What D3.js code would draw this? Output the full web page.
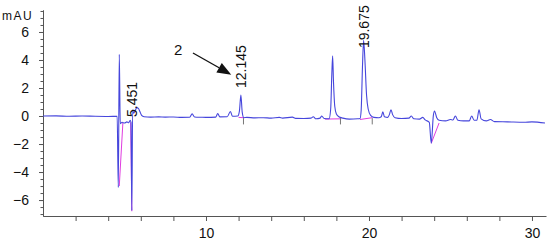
<!DOCTYPE html>
<html>
<head>
<meta charset="utf-8">
<script src="https://cdn.jsdelivr.net/npm/d3@7"></script>
<style>
  body { margin: 0; background: #fff; }
  svg { display: block; font-family: "Liberation Sans", Arial, sans-serif; }
</style>
</head>
<body>
<div id="chart"></div>
<script>
// chromatogram trace, [retention time (min), signal (mAU)]
const trace = [
  [0.0, 0.00], [0.8, 0.01], [1.6, -0.02], [2.4, 0.00], [3.2, -0.02], [4.0, -0.03],
  [4.55, -0.02], [4.62, -5.1], [4.68, 4.4], [4.74, -0.55], [4.85, -0.45], [5.0, -0.5],
  [5.15, -0.42], [5.25, -0.48], [5.35, -0.3], [5.40, -0.45], [5.45, -6.75], [5.50, 0.45],
  [5.56, 0.2], [5.65, 0.35], [5.75, 0.6], [5.85, 0.55], [5.95, 0.3], [6.05, 0.05],
  [6.2, -0.05], [6.6, -0.08], [7.1, -0.06], [7.5, -0.08], [8.0, -0.07], [8.5, -0.1],
  [9.0, -0.09], [9.15, 0.15], [9.3, -0.07], [9.7, -0.09], [10.0, -0.1], [10.6, -0.08],
  [10.72, 0.18], [10.85, -0.06], [11.3, -0.05], [11.5, 0.32], [11.62, -0.02], [11.95, 0.0],
  [12.05, 0.35], [12.14, 1.5], [12.22, 0.3], [12.32, -0.12], [12.5, -0.1], [13.0, -0.13],
  [13.5, -0.12], [14.0, -0.15], [14.5, -0.1], [14.7, -0.15], [15.3, -0.08], [15.5, -0.17],
  [16.0, -0.18], [16.45, -0.15], [16.58, -0.05], [16.75, -0.2], [17.0, -0.15], [17.1, 0.0],
  [17.25, -0.18], [17.55, -0.2], [17.65, 0.5], [17.72, 3.0], [17.77, 4.3], [17.82, 2.5],
  [17.9, 0.7], [18.0, 0.15], [18.15, -0.05], [18.4, -0.15], [18.8, -0.22], [19.3, -0.2],
  [19.45, -0.18], [19.52, 0.4], [19.6, 3.5], [19.67, 5.4], [19.75, 4.0], [19.85, 1.5],
  [19.95, 0.5], [20.1, 0.05], [20.3, -0.1], [20.6, -0.12], [20.75, -0.05], [20.85, 0.3],
  [20.95, -0.05], [21.15, -0.1], [21.25, 0.1], [21.35, 0.45], [21.45, 0.1], [21.6, -0.12],
  [22.0, -0.18], [22.45, -0.15], [22.6, 0.0], [22.75, -0.2], [23.1, -0.22], [23.3, -0.1],
  [23.45, -0.28], [23.7, -0.45], [23.82, -1.95], [23.95, 0.05], [24.02, 0.35], [24.15, -0.1],
  [24.3, -0.3], [24.7, -0.35], [25.0, -0.25], [25.15, -0.28], [25.3, 0.0], [25.45, -0.3],
  [25.8, -0.35], [26.15, -0.35], [26.3, 0.0], [26.45, -0.3], [26.62, -0.3], [26.75, 0.45],
  [26.88, -0.2], [27.2, -0.35], [27.45, -0.25], [27.7, -0.4], [28.5, -0.42], [29.5, -0.45],
  [30.0, -0.42], [30.8, -0.5]
];

// integration baselines (magenta)
const baselines = [
  [[4.68, -5.0], [4.9, -0.5]],
  [[5.38, -0.45], [5.45, -6.8]],
  [[12.0, -0.1], [12.32, -0.12]],
  [[17.3, -0.22], [18.3, -0.2]],
  [[19.45, -0.25], [20.2, -0.12]],
  [[23.82, -1.95], [24.3, -0.5]]
];

// small peak-end markers
const markerTimes = [12.3, 18.25, 20.2];

// retention time labels: [rt, signal where text starts]
const peakLabels = [
  { text: "5.451", rt: 5.45, at: -0.07 },
  { text: "12.145", rt: 12.14, at: 2.0 },
  { text: "19.675", rt: 19.67, at: 4.85 }
];

const xTicks = [2, 4, 6, 8, 10, 12, 14, 16, 18, 20, 22, 24, 26, 28, 30];
const xLabels = [10, 20, 30];
const yTicks = [-6, -4, -2, 0, 2, 4, 6];
const yMinorTicks = d3.range(-7, 7.51, 0.5);

// annotation "2" with arrow
const annoText = { text: "2", rt: 8.3, at: 4.35 };
const arrowFrom = [9.2, 4.5], arrowTo = [11.55, 2.95];

const width = 550, height = 245;
const svg = d3.select("#chart").append("svg")
  .attr("width", width).attr("height", height);

const x = d3.scaleLinear().domain([0, 30.86]).range([43, 546]);
const y = d3.scaleLinear().domain([-7.14, 7.57]).range([216, 10]);

// axes
const axisColor = "#555";
const gx = svg.append("g").attr("transform", `translate(0,${y.range()[0]})`)
  .call(d3.axisBottom(x).tickValues(xTicks).tickSize(5).tickSizeOuter(0).tickPadding(7)
    .tickFormat(d => xLabels.includes(d) ? d : ""));
const gyMinor = svg.append("g").attr("transform", `translate(${x.range()[0]},0)`)
  .call(d3.axisLeft(y).tickValues(yMinorTicks).tickSize(2.5).tickSizeOuter(0).tickFormat(""));
const gy = svg.append("g").attr("transform", `translate(${x.range()[0]},0)`)
  .call(d3.axisLeft(y).tickValues(yTicks).tickSize(4).tickSizeOuter(0).tickPadding(10));

[gx, gy, gyMinor].forEach(g => {
  g.selectAll("path, line").attr("stroke", axisColor);
  g.selectAll("text").attr("fill", "#111").attr("font-size", 14)
    .style("font-family", "'Liberation Sans', Arial, sans-serif");
});

svg.append("text").attr("x", 2).attr("y", 20)
  .attr("font-size", 12).attr("letter-spacing", 1.5).attr("fill", "#111")
  .text("mAU");

// magenta integration lines
svg.append("g").selectAll("path")
  .data(baselines).join("path")
  .attr("d", d3.line().x(d => x(d[0])).y(d => y(d[1])))
  .attr("fill", "none").attr("stroke", "#e03ce0").attr("stroke-width", 1);

// trace
svg.append("path")
  .datum(trace)
  .attr("d", d3.line().x(d => x(d[0])).y(d => y(d[1])).curve(d3.curveMonotoneX))
  .attr("fill", "none").attr("stroke", "#4646dc").attr("stroke-width", 1.1)
  .attr("stroke-linejoin", "round");

// peak end markers
svg.append("g").selectAll("line")
  .data(markerTimes).join("line")
  .attr("x1", d => x(d)).attr("x2", d => x(d))
  .attr("y1", y(-0.15)).attr("y2", y(-0.6))
  .attr("stroke", "#777").attr("stroke-width", 1);

// retention time labels
svg.append("g").selectAll("text")
  .data(peakLabels).join("text")
  .attr("transform", d => `translate(${x(d.rt) + 5},${y(d.at)}) rotate(-90)`)
  .attr("font-size", 14).attr("fill", "#111")
  .text(d => d.text);

// annotation
svg.append("text")
  .attr("x", x(annoText.rt)).attr("y", y(annoText.at))
  .attr("text-anchor", "middle").attr("font-size", 15).attr("fill", "#111")
  .text(annoText.text);

const p0 = [x(arrowFrom[0]), y(arrowFrom[1])], p1 = [x(arrowTo[0]), y(arrowTo[1])];
const dx = p1[0] - p0[0], dy = p1[1] - p0[1], len = Math.hypot(dx, dy);
const ux = dx / len, uy = dy / len;
const headLen = 14, headHalf = 5.5;
const base = [p1[0] - ux * headLen, p1[1] - uy * headLen];
svg.append("line")
  .attr("x1", p0[0]).attr("y1", p0[1]).attr("x2", base[0]).attr("y2", base[1])
  .attr("stroke", "#111").attr("stroke-width", 1.3);
svg.append("path")
  .attr("d", `M${p1[0]},${p1[1]}L${base[0] - uy * headHalf},${base[1] + ux * headHalf}L${base[0] + uy * headHalf},${base[1] - ux * headHalf}Z`)
  .attr("fill", "#111");
</script>
</body>
</html>
